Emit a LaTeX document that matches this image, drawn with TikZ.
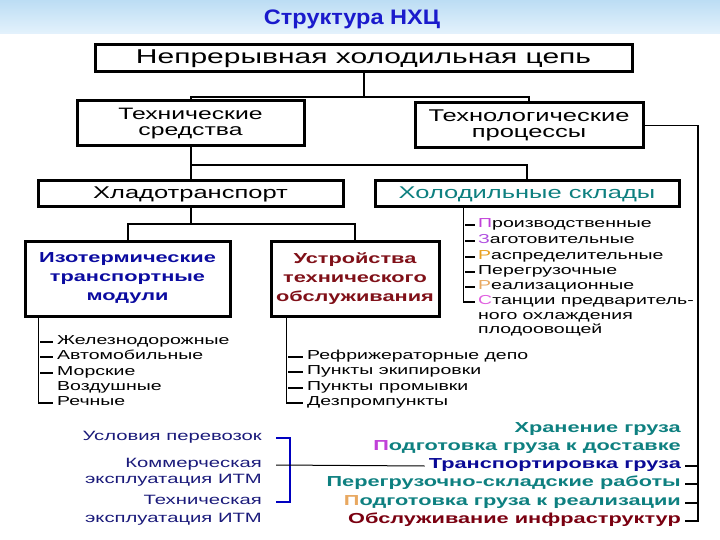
\documentclass[tikz,border=0pt]{standalone}
\usepackage{fontspec}
\setmainfont{Liberation Sans}
\newfontfamily\wf[FakeStretch=1.5]{Liberation Sans}
\newfontfamily\tf[FakeStretch=1.12]{Liberation Sans}
\usetikzlibrary{calc}
\definecolor{ttl}{HTML}{1A1ACC}
\definecolor{bandtop}{HTML}{BCDDF4}
\definecolor{bandbot}{HTML}{E4F2FC}
\definecolor{teal}{HTML}{0E8080}
\definecolor{pmag}{HTML}{C040D8}
\definecolor{pviol}{HTML}{B050E0}
\definecolor{porng}{HTML}{E8A020}
\definecolor{porng2}{HTML}{E8A860}
\definecolor{ppink}{HTML}{E060E0}
\definecolor{navyt}{HTML}{0A0A96}
\definecolor{dred}{HTML}{7A0010}
\definecolor{isoblue}{HTML}{0B0BA0}
\definecolor{ustred}{HTML}{801018}
\definecolor{btxt}{HTML}{1A1A7A}
\definecolor{brk}{HTML}{0000C0}
\tikzset{
  box/.style={draw=black, line width=3pt, inner sep=0pt, align=center, fill=white},
  conn/.style={line width=2pt},
  lst/.style={line width=1.4pt},
  txt/.style={inner sep=0pt},
  bigf/.style={font=\wf\fontsize{20}{24}\selectfont},
  midf/.style={font=\wf\fontsize{17}{16}\selectfont},
  boldf/.style={font=\wf\bfseries\fontsize{14.5}{19}\selectfont},
  listf/.style={txt, anchor=mid west, font=\wf\fontsize{13}{15}\selectfont},
  leftf/.style={txt, anchor=mid east, font=\wf\fontsize{13.5}{16}\selectfont, text=btxt},
  rightf/.style={txt, anchor=mid east, font=\wf\bfseries\fontsize{14.5}{18}\selectfont}
}
\begin{document}
\begin{tikzpicture}[x=1pt,y=-1pt]
\useasboundingbox (0,0) rectangle (720,540);
\shade[top color=bandtop, bottom color=bandbot] (0,0) rectangle (720,34);
\node[txt, font=\tf\bfseries\fontsize{21}{24}\selectfont, text=ttl] (title) at (352,19) {Структура НХЦ};

% boxes
\node[box, bigf, minimum width=537pt, minimum height=27pt] (b1) at (363.5,58.5) {Непрерывная холодильная цепь};
\node[box, font=\wf\fontsize{16.5}{16}\selectfont, minimum width=227pt, minimum height=45pt] (b2) at (190.5,123.5) {Технические\\средства};
\node[box, midf, minimum width=228pt, minimum height=45pt] (b3) at (529,125.5) {Технологические\\процессы};
\node[box, midf, minimum width=305pt, minimum height=26pt] (b4) at (190.5,194) {Хладотранспорт};
\node[box, midf, text=teal, minimum width=304pt, minimum height=26pt] (b5) at (527,194) {Холодильные склады};
\node[box, boldf, text=isoblue, minimum width=205pt, minimum height=75pt] (b6) at (127.5,278.5) {Изотермические\\транспортные\\модули};
\node[box, boldf, text=ustred, minimum width=168pt, minimum height=75pt] (b7) at (355,278.5) {Устройства\\технического\\обслуживания};

% tree connectors
\coordinate (j1) at (363.5,97);
\draw[conn] (b1.south) -- (j1);
\draw[conn] (b2.north) |- (j1) -| (b3.north);
\coordinate (j2) at (190.5,165);
\draw[conn] (b2.south) -- (b4.north);
\draw[conn] (j2) -| (b5.north);
\coordinate (j3) at (190.5,224);
\draw[conn] (b4.south) -- (j3);
\draw[conn] (b6.north) |- (j3) -| (b7.north);

% list under b6
\node[listf] (l1) at (57,342) {Железнодорожные};
\node[listf] (l2) at (57,357) {Автомобильные};
\node[listf] (l3) at (57,373) {Морские};
\node[listf] (l4) at (57,388) {Воздушные};
\node[listf] (l5) at (57,403) {Речные};
\draw[lst] ([xshift=15]b6.south west) |- ([xshift=-4]l5.mid west);
\foreach \n in {l1,l2,l3} \draw[lst] ([xshift=-17]\n.mid west) -- ([xshift=-4]\n.mid west);

% list under b7
\node[listf] (m1) at (307,357) {Рефрижераторные депо};
\node[listf] (m2) at (307,372) {Пункты экипировки};
\node[listf] (m3) at (307,388) {Пункты промывки};
\node[listf] (m4) at (307,403) {Дезпромпункты};
\draw[lst] ([xshift=17]b7.south west) |- ([xshift=-4]m4.mid west);
\foreach \n in {m1,m2,m3} \draw[lst] ([xshift=-19]\n.mid west) -- ([xshift=-4]\n.mid west);

% list under b5
\node[listf] (s1) at (478,225) {{\color{pmag}П}роизводственные};
\node[listf] (s2) at (478,241) {{\color{pviol}З}аготовительные};
\node[listf] (s3) at (478,257) {{\color{porng}Р}аспределительные};
\node[listf] (s4) at (478,272) {Перегрузочные};
\node[listf] (s5) at (478,287) {{\color{porng2}Р}еализационные};
\node[listf] (s6) at (478,302) {{\color{ppink}С}танции предваритель-};
\node[listf] (s7) at (478,317) {ного охлаждения};
\node[listf] (s8) at (478,331) {плодоовощей};
\draw[lst] ([xshift=90]b5.south west) |- ([xshift=-3]s6.mid west);
\foreach \n in {s1,s2,s3,s4,s5} \draw[lst] ([xshift=-13]\n.mid west) -- ([xshift=-3]\n.mid west);

% bottom left
\node[leftf] (u1) at (262,438) {Условия перевозок};
\node[leftf] (k1) at (262,465) {Коммерческая};
\node[leftf] (k2) at (262,481) {эксплуатация ИТМ};
\node[leftf] (t1) at (262,502) {Техническая};
\node[leftf] (t2) at (262,520) {эксплуатация ИТМ};

% bottom right
\node[rightf, text=teal] (r1) at (681,430) {Хранение груза};
\node[rightf, text=teal] (r2) at (681,448) {{\color{pmag}П}одготовка груза к доставке};
\node[rightf, text=navyt] (r3) at (681,466) {Транспортировка груза};
\node[rightf, text=teal] (r4) at (681,484) {Перегрузочно-складские работы};
\node[rightf, text=teal] (r5) at (681,503) {{\color{porng2}П}одготовка груза к реализации};
\node[rightf, text=dred] (r6) at (681,521) {Обслуживание инфраструктур};

% blue bracket
\coordinate (bt) at ([xshift=14]u1.mid east);
\coordinate (bbo) at ([xshift=14]t1.mid east);
\draw[brk, line width=2.5pt] (bt) -- ++(14,0) |- (bbo);
\coordinate (km) at ([xshift=14]k1.mid east);
\draw[line width=1pt] (km) -- ([xshift=-4]r3.mid west);

% right connector
\coordinate (rb) at (698,521);
\draw[lst] (b3.east) -| (rb) -- ([xshift=4]r6.mid east);
\foreach \n in {r3,r4,r5} \draw[lst] ([xshift=4]\n.mid east) -- (\n.mid east -| rb);
\end{tikzpicture}
\end{document}
